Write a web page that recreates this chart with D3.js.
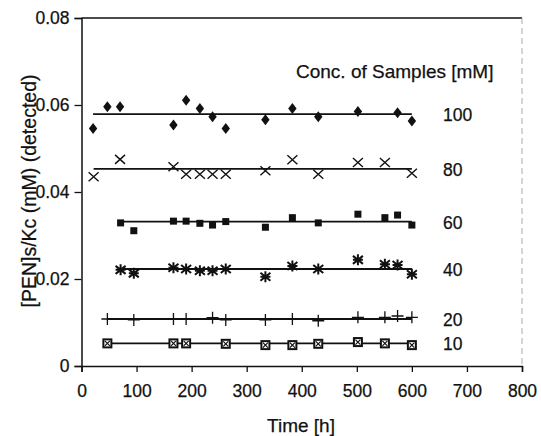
<!DOCTYPE html>
<html>
<head>
<meta charset="utf-8">
<script src="https://cdn.jsdelivr.net/npm/d3@7"></script>
<style>
  body { margin: 0; background: #fff; }
  text { font-family: "Liberation Sans", Arial, sans-serif; fill: #111; stroke: #111; stroke-width: 0.25; }
</style>
</head>
<body>
<svg id="chart" width="541" height="436"></svg>
<script>
// data: time [h] and detected [PEN]s/Kc (mM)
const times100 = [21, 47, 70, 167, 190, 215, 238, 262, 334, 383, 430, 502, 574, 600];
const vals100  = [0.0546, 0.0596, 0.0596, 0.0554, 0.0611, 0.0592, 0.0573, 0.0546, 0.0566, 0.0592, 0.0573, 0.0585, 0.0582, 0.0563];
const times80  = [22, 70, 167, 190, 215, 238, 262, 334, 383, 430, 502, 551, 600];
const vals80   = [0.0435, 0.0475, 0.0458, 0.0441, 0.0441, 0.0441, 0.0441, 0.0449, 0.0474, 0.0441, 0.0468, 0.0468, 0.0443];
const times60  = [71, 95, 167, 190, 215, 238, 262, 334, 383, 430, 502, 551, 574, 600];
const vals60   = [0.0329, 0.0311, 0.0333, 0.0333, 0.0328, 0.0324, 0.0332, 0.0319, 0.0341, 0.0329, 0.0349, 0.0341, 0.0347, 0.0324];
const times40  = [71, 95, 167, 190, 215, 238, 262, 334, 383, 430, 502, 551, 574, 600];
const vals40   = [0.0221, 0.0213, 0.0226, 0.0223, 0.0219, 0.0219, 0.0223, 0.0205, 0.0230, 0.0223, 0.0244, 0.0234, 0.0232, 0.0211];
const times20  = [47, 95, 167, 190, 238, 262, 334, 383, 430, 502, 551, 574, 600];
const vals20   = [0.0108, 0.0106, 0.0108, 0.0108, 0.0111, 0.0106, 0.0106, 0.0108, 0.0104, 0.0112, 0.0112, 0.0115, 0.0112];
const times10  = [47, 167, 190, 262, 334, 383, 430, 502, 551, 600];
const vals10   = [0.0052, 0.0052, 0.0052, 0.0051, 0.0048, 0.0048, 0.0051, 0.0055, 0.0052, 0.0048];

const concLabels = ["100", "80", "60", "40", "20", "10"];
const fitLevels  = [0.0579, 0.0453, 0.0332, 0.0223, 0.0108, 0.0052];
const markerKinds = ["diamond", "x", "square", "asterisk", "plus", "boxx"];

const xTicks = [0, 100, 200, 300, 400, 500, 600, 700, 800];
const yTicks = [0, 0.02, 0.04, 0.06, 0.08];

const series = [
  { t: times100, v: vals100 },
  { t: times80, v: vals80 },
  { t: times60, v: vals60 },
  { t: times40, v: vals40 },
  { t: times20, v: vals20 },
  { t: times10, v: vals10 }
].map((s, i) => ({
  pts: s.t.map((t, j) => ({ t: t, v: s.v[j] })),
  label: concLabels[i],
  fit: fitLevels[i],
  kind: markerKinds[i]
}));

const svg = d3.select("#chart");
const x = d3.scaleLinear().domain([0, 800]).range([81.5, 522]);
const y = d3.scaleLinear().domain([0, 0.08]).range([366, 18]);

// frame
svg.append("line").attr("x1", x(0)).attr("x2", x(800)).attr("y1", y(0.08)).attr("y2", y(0.08))
  .attr("stroke", "#111").attr("stroke-width", 1.5);
svg.append("line").attr("x1", x(800)).attr("x2", x(800)).attr("y1", y(0.08)).attr("y2", y(0))
  .attr("stroke", "#aaa").attr("stroke-width", 1).attr("stroke-dasharray", "6,4");

// axes
const yAxis = svg.append("g")
  .attr("transform", `translate(${x(0)},0)`)
  .call(d3.axisLeft(y).tickValues(yTicks).tickSize(7).tickPadding(5)
    .tickFormat(d => d === 0 ? "0" : d.toFixed(2)));
const xAxis = svg.append("g")
  .attr("transform", `translate(0,${y(0)})`)
  .call(d3.axisBottom(x).tickValues(xTicks).tickSize(6).tickPadding(13).tickFormat(d3.format("d")));
[xAxis, yAxis].forEach(g => {
  g.select(".domain").attr("stroke", "#111").attr("stroke-width", 1.5);
  g.selectAll(".tick line").attr("stroke", "#111").attr("stroke-width", 1.3);
  g.selectAll("text").attr("font-size", 17.5).attr("fill", "#111")
    .style("font-family", "'Liberation Sans', Arial, sans-serif");
});

// axis titles
svg.append("text")
  .attr("x", 301).attr("y", 432)
  .attr("text-anchor", "middle").attr("font-size", 19)
  .text("Time [h]");
svg.append("text")
  .attr("transform", `translate(36,${191}) rotate(-90)`)
  .attr("text-anchor", "middle").attr("font-size", 19.5)
  .text("[PEN]s/Kc (mM) (detected)");

svg.append("text")
  .attr("x", 296).attr("y", 78)
  .attr("font-size", 19)
  .text("Conc. of Samples [mM]");

// fitted horizontal lines
const lineGroup = svg.append("g");
series.forEach(s => {
  const t0 = d3.min(s.pts, d => d.t), t1 = d3.max(s.pts, d => d.t);
  lineGroup.append("line")
    .attr("x1", x(t0)).attr("x2", x(t1))
    .attr("y1", y(s.fit)).attr("y2", y(s.fit))
    .attr("stroke", "#111").attr("stroke-width", 1.8);
  svg.append("text")
    .attr("x", 443).attr("y", y(s.fit) + 7)
    .attr("font-size", 17.5)
    .text(s.label);
});

// markers
function drawMarker(g, kind) {
  if (kind === "diamond") {
    g.append("path").attr("d", "M0,-5.5L4.2,0L0,5.5L-4.2,0Z").attr("fill", "#111");
  } else if (kind === "square") {
    g.append("rect").attr("x", -3.5).attr("y", -3.5).attr("width", 7).attr("height", 7).attr("fill", "#111");
  } else if (kind === "x") {
    g.append("path").attr("d", "M-5,-4.5L5,4.5M-5,4.5L5,-4.5").attr("stroke", "#111").attr("stroke-width", 1.4);
  } else if (kind === "plus") {
    g.append("path").attr("d", "M-6,0L6,0M0,-6L0,6").attr("stroke", "#111").attr("stroke-width", 1.3);
  } else if (kind === "asterisk") {
    g.append("path").attr("d", "M-5,-4L5,4M-5,4L5,-4M0,-5.5L0,5.5M-5,0L5,0")
      .attr("stroke", "#111").attr("stroke-width", 2);
  } else if (kind === "boxx") {
    g.append("rect").attr("x", -4).attr("y", -4).attr("width", 8).attr("height", 8)
      .attr("fill", "#fff").attr("stroke", "#111").attr("stroke-width", 2);
    g.append("path").attr("d", "M-2.5,-2.5L2.5,2.5M-2.5,2.5L2.5,-2.5").attr("stroke", "#111").attr("stroke-width", 1.2);
  }
}

series.forEach(s => {
  svg.append("g").selectAll("g.pt")
    .data(s.pts)
    .enter()
    .append("g")
    .attr("class", "pt")
    .attr("transform", d => `translate(${x(d.t)},${y(d.v)})`)
    .each(function () { drawMarker(d3.select(this), s.kind); });
});
</script>
</body>
</html>
